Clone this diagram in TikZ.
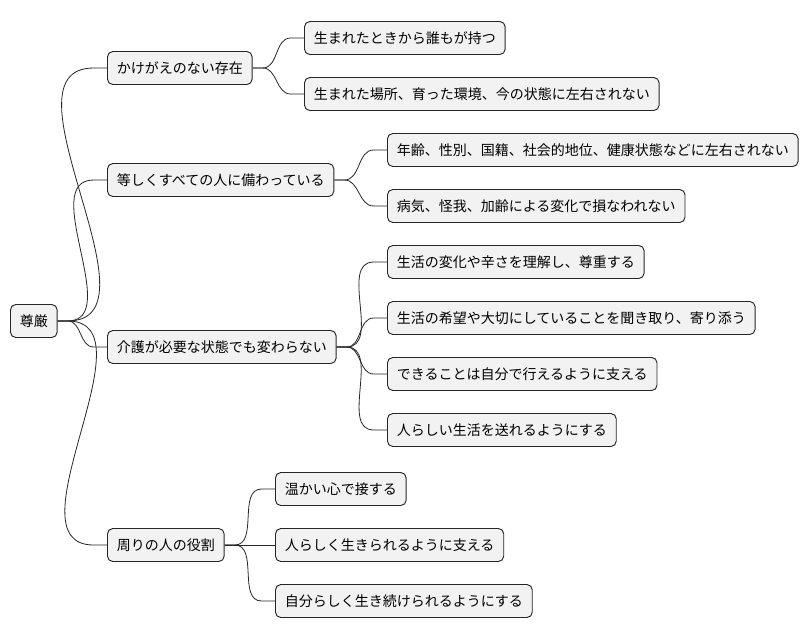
\documentclass[tikz,border=0pt]{standalone}
\usepackage{fontspec}
\setmainfont{Noto Sans CJK JP}
\begin{document}
\begin{tikzpicture}[x=0.75pt,y=-0.75pt,
  box/.style={draw=black!85,line width=0.7pt,fill=black!5,rounded corners=4pt,anchor=west,
    minimum height=24.75pt,inner xsep=7pt,font=\fontsize{10.5pt}{12pt}\selectfont},
  con/.style={line width=0.6pt,draw=black!85}]
\useasboundingbox (0,0) rectangle (810,640);
\node[box] (r) at (10,321) {尊厳};
\node[box] (a) at (107,68) {かけがえのない存在};
\node[box] (a1) at (304,38) {生まれたときから誰もが持つ};
\node[box] (a2) at (304,94) {生まれた場所、育った環境、今の状態に左右されない};
\node[box] (b) at (107,180) {等しくすべての人に備わっている};
\node[box] (b1) at (387,150) {年齢、性別、国籍、社会的地位、健康状態などに左右されない};
\node[box] (b2) at (387,206) {病気、怪我、加齢による変化で損なわれない};
\node[box] (c) at (107,347) {介護が必要な状態でも変わらない};
\node[box] (c1) at (387,262) {生活の変化や辛さを理解し、尊重する};
\node[box] (c2) at (387,318) {生活の希望や大切にしていることを聞き取り、寄り添う};
\node[box] (c3) at (387,374) {できることは自分で行えるように支える};
\node[box] (c4) at (387,430) {人らしい生活を送れるようにする};
\node[box] (d) at (107,545) {周りの人の役割};
\node[box] (d1) at (275,489) {温かい心で接する};
\node[box] (d2) at (275,545) {人らしく生きられるように支える};
\node[box] (d3) at (275,601) {自分らしく生き続けられるようにする};
\foreach \p/\c in {r/a,r/b,r/c,r/d,a/a1,a/a2,b/b1,b/b2,c/c1,c/c2,c/c3,c/c4,d/d1,d/d2,d/d3}
  \draw[con] (\p.east) -- ++(10,0) to[out=0,in=180] ([xshift=-10]\c.west) -- (\c.west);
\end{tikzpicture}
\end{document}
